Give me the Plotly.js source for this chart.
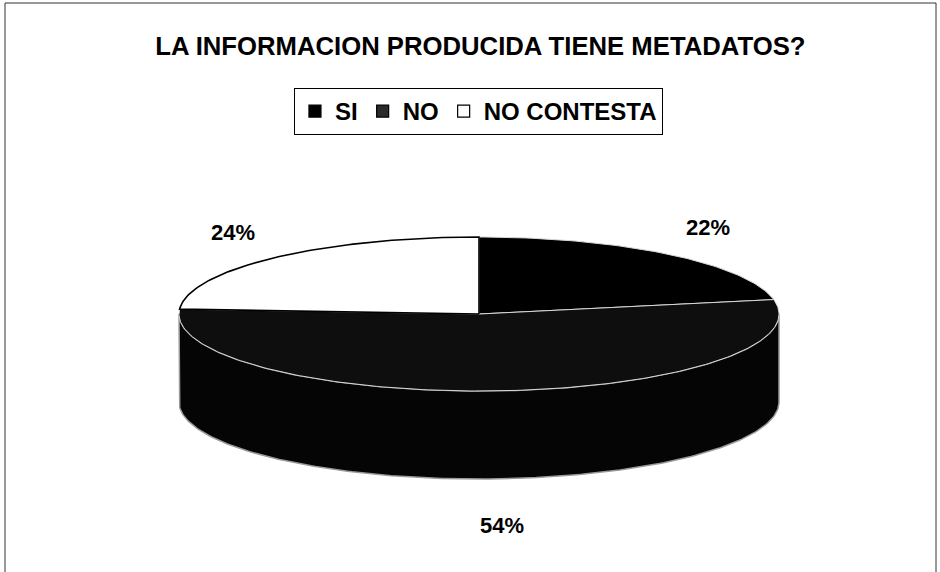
<!DOCTYPE html>
<html>
<head>
<meta charset="utf-8">
<script src="https://cdn.plot.ly/plotly-3.0.1.min.js"></script>
<style>
  html, body { margin: 0; padding: 0; background: #fff; }
  #chart { width: 940px; height: 572px; }
</style>
</head>
<body>
<div id="chart"></div>
<script>
"use strict";

// data
var categories = ["SI", "NO", "NO CONTESTA"];
var percents = [22, 54, 24];
var sliceColors = ["#000000", "#0e0e0e", "#ffffff"];
var edgeColors = ["#d8d8d8", "#d8d8d8", "#000000"];

// geometry of the flattened 3d pie, in pixel units of the hidden axes
var cx = 479, cy = 314, rx = 300, ry = 77, depth = 88;
var FONT = "Arial, 'Liberation Sans', sans-serif";

function point(deg, dy){
    var r = deg * Math.PI / 180;
    return [cx + rx * Math.sin(r), cy - ry * Math.cos(r) + dy];
}

function arc(a0, a1, dy){
    var pts = [];
    var steps = Math.max(2, Math.ceil(Math.abs(a1 - a0)));
    for (var i = 0; i <= steps; i++){
        pts.push(point(a0 + (a1 - a0) * i / steps, dy));
    }
    return pts;
}

var total = percents.reduce(function(a, b){ return a + b; }, 0);
var starts = [], ends = [];
var acc = 0;
percents.forEach(function(p){
    starts.push(acc / total * 360);
    acc += p;
    ends.push(acc / total * 360);
});

var traces = [];

// side wall (front half only: 90..270 degrees)
categories.forEach(function(name, i){
    var lo = Math.max(starts[i], 90), hi = Math.min(ends[i], 270);
    if (lo >= hi) return;
    var pts = arc(lo, hi, 0).concat(arc(hi, lo, depth));
    pts.push(pts[0]);
    traces.push({
        type: "scatter", mode: "lines", fill: "toself",
        x: pts.map(function(p){ return p[0]; }),
        y: pts.map(function(p){ return p[1]; }),
        fillcolor: i === 2 ? "#e6e6e6" : "#050505",
        line: {color: "#9a9a9a", width: 1.5},
        showlegend: false, hoverinfo: "skip"
    });
});

// top face slices, white slice drawn last so its outline stays on top
[0, 1, 2].forEach(function(i){
    var pts = [[cx, cy]].concat(arc(starts[i], ends[i], 0));
    pts.push([cx, cy]);
    traces.push({
        type: "scatter", mode: "lines", fill: "toself",
        x: pts.map(function(p){ return p[0]; }),
        y: pts.map(function(p){ return p[1]; }),
        fillcolor: sliceColors[i],
        line: {color: edgeColors[i], width: i === 2 ? 1.6 : 1},
        showlegend: false, hoverinfo: "skip"
    });
});

// legend entries (square swatches)
categories.forEach(function(name, i){
    traces.push({
        type: "bar", x: [null], y: [null], name: name,
        marker: {color: i === 1 ? "#2a2a2a" : sliceColors[i], line: {color: "#000", width: 1.2}},
        hoverinfo: "skip"
    });
});

// percentage labels placed around the pie
var annotations = categories.map(function(name, i){
    var mid = (starts[i] + ends[i]) / 2 * Math.PI / 180;
    var c = Math.cos(mid);
    return {
        x: cx + 1.2 * rx * Math.sin(mid),
        y: cy - 1.45 * ry * c + (c < 0 ? depth + 12 : 0),
        xref: "x", yref: "y",
        text: percents[i] + "%",
        showarrow: false,
        font: {family: FONT, size: 22, color: "#000", weight: 700}
    };
});

var layout = {
    width: 940, height: 572,
    margin: {l: 0, r: 0, t: 0, b: 0},
    paper_bgcolor: "#fff", plot_bgcolor: "#fff",
    title: {
        text: "LA INFORMACION PRODUCIDA TIENE METADATOS?",
        font: {family: FONT, size: 25.7, color: "#000", weight: 700},
        x: 0.511, xanchor: "center", y: 1 - 46 / 572, yanchor: "middle"
    },
    xaxis: {range: [0, 940], visible: false, fixedrange: true},
    yaxis: {range: [572, 0], visible: false, fixedrange: true},
    showlegend: true,
    legend: {
        orientation: "h",
        x: 0.509, xanchor: "center",
        y: 1 - 88 / 572, yanchor: "top",
        bordercolor: "#000", borderwidth: 1,
        bgcolor: "#fff",
        font: {family: FONT, size: 24, color: "#000", weight: 700},
        itemwidth: 30, traceorder: "normal"
    },
    annotations: annotations,
    shapes: [{
        type: "rect", xref: "paper", yref: "paper",
        x0: 5 / 940, x1: 936 / 940, y0: -0.01, y1: 1 - 3 / 572,
        line: {color: "#333", width: 1}
    }],
    hovermode: false
};

Plotly.newPlot("chart", traces, layout, {displayModeBar: false, staticPlot: true});
</script>
</body>
</html>
